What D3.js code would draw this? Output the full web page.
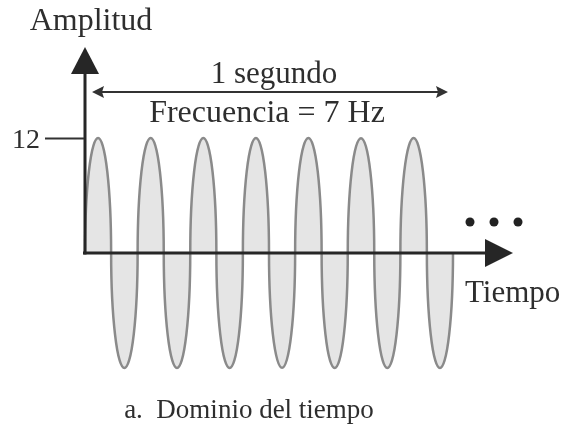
<!DOCTYPE html>
<html>
<head>
<meta charset="UTF-8">
<script src="https://d3js.org/d3.v7.min.js"></script>
</head>
<body style="margin: 0; background: #ffffff;">
<svg id="chart" width="565" height="428"></svg>
<script>
// half-cycle boundaries over one second (seconds) and the value of each lobe
var halfCycleBounds = [0, 0.071, 0.143, 0.214, 0.286, 0.357, 0.429, 0.5,
                       0.571, 0.643, 0.714, 0.786, 0.857, 0.929, 1.0];
var lobeValues = [12, -12, 12, -12, 12, -12, 12, -12, 12, -12, 12, -12, 12, -12];
var yTicks = [12];
var yLabel = "Amplitud";
var xLabel = "Tiempo";
var spanLabel = "1 segundo";
var freqLabel = "Frecuencia = 7 Hz";
var caption = "a.  Dominio del tiempo";

var serif = "'Liberation Serif', 'Times New Roman', serif";
var textColor = "#2e2e2e";

var svg = d3.select("#chart");

// soft edges like the scanned original
svg.append("defs").append("filter")
    .attr("id", "soft")
    .append("feGaussianBlur")
    .attr("stdDeviation", 0.5);

var root = svg.append("g").attr("filter", "url(#soft)");

var x = d3.scaleLinear().domain([0, 1]).range([85, 453]);
var y = d3.scaleLinear().domain([-12, 12]).range([368, 138]);

var lobes = lobeValues.map(function (v, i) {
    return { t0: halfCycleBounds[i], t1: halfCycleBounds[i + 1], v: v };
});

// wave lobes (half ellipses)
root.append("g").selectAll("path")
    .data(lobes)
    .enter()
    .append("path")
    .attr("d", function (d) {
        var x0 = x(d.t0), x1 = x(d.t1), y0 = y(0);
        var rx = (x1 - x0) / 2, ry = Math.abs(y(d.v) - y0);
        var sweep = d.v > 0 ? 1 : 0;
        return "M" + x0 + "," + y0 + " A" + rx + "," + ry + " 0 0 " + sweep + " " + x1 + "," + y0;
    })
    .attr("fill", "#e5e5e5")
    .attr("stroke", "#8a8a8a")
    .attr("stroke-width", 2.5);

// axes lines
var axisColor = "#262626";
root.append("line")
    .attr("x1", 85).attr("x2", 85)
    .attr("y1", y(0) + 1.5).attr("y2", 70)
    .attr("stroke", axisColor).attr("stroke-width", 3);
root.append("path")
    .attr("d", "M85,47 L71,74 L99,74 Z")
    .attr("fill", axisColor);

root.append("line")
    .attr("x1", 83).attr("x2", 490)
    .attr("y1", y(0)).attr("y2", y(0))
    .attr("stroke", axisColor).attr("stroke-width", 3);
root.append("path")
    .attr("d", "M513," + y(0) + " L485," + (y(0) - 14) + " L485," + (y(0) + 14) + " Z")
    .attr("fill", axisColor);

// y tick via d3 axis
var yAxis = root.append("g")
    .attr("transform", "translate(84,0)")
    .call(d3.axisLeft(y).tickValues(yTicks).tickSize(39).tickPadding(5).tickFormat(d3.format("d")));
yAxis.select(".domain").remove();
yAxis.selectAll("line").attr("stroke", "#333").attr("stroke-width", 2);
yAxis.selectAll("text")
    .style("font-family", serif)
    .style("font-size", "28px")
    .attr("fill", textColor)
    .attr("dy", "0.34em");

// ellipsis dots
root.append("g").selectAll("circle")
    .data([470, 494, 518])
    .enter()
    .append("circle")
    .attr("cx", function (d) { return d; })
    .attr("cy", 222)
    .attr("r", 4.5)
    .attr("fill", "#222");

// one second span arrow
var ySpan = 92;
root.append("line")
    .attr("x1", x(0) + 10).attr("x2", x(1) - 8)
    .attr("y1", ySpan).attr("y2", ySpan)
    .attr("stroke", "#333").attr("stroke-width", 2);
root.append("path")
    .attr("d", "M" + (x(0) + 7) + "," + ySpan + " L" + (x(0) + 19) + "," + (ySpan - 6) +
        " L" + (x(0) + 17) + "," + ySpan + " L" + (x(0) + 19) + "," + (ySpan + 6) + " Z")
    .attr("fill", "#333");
root.append("path")
    .attr("d", "M" + (x(1) - 5) + "," + ySpan + " L" + (x(1) - 17) + "," + (ySpan - 6) +
        " L" + (x(1) - 15) + "," + ySpan + " L" + (x(1) - 17) + "," + (ySpan + 6) + " Z")
    .attr("fill", "#333");

// texts
function label(str, px, py, size, anchor) {
    return root.append("text")
        .attr("x", px).attr("y", py)
        .attr("text-anchor", anchor)
        .attr("fill", textColor)
        .style("font-family", serif)
        .style("font-size", size + "px")
        .style("white-space", "pre")
        .text(str);
}

label(yLabel, 91, 30, 32, "middle");
label(spanLabel, 274, 83, 31, "middle");
label(freqLabel, 267, 122, 32, "middle");
label(xLabel, 465, 302, 31, "start");
label(caption, 249, 418, 27, "middle");
</script>
</body>
</html>
